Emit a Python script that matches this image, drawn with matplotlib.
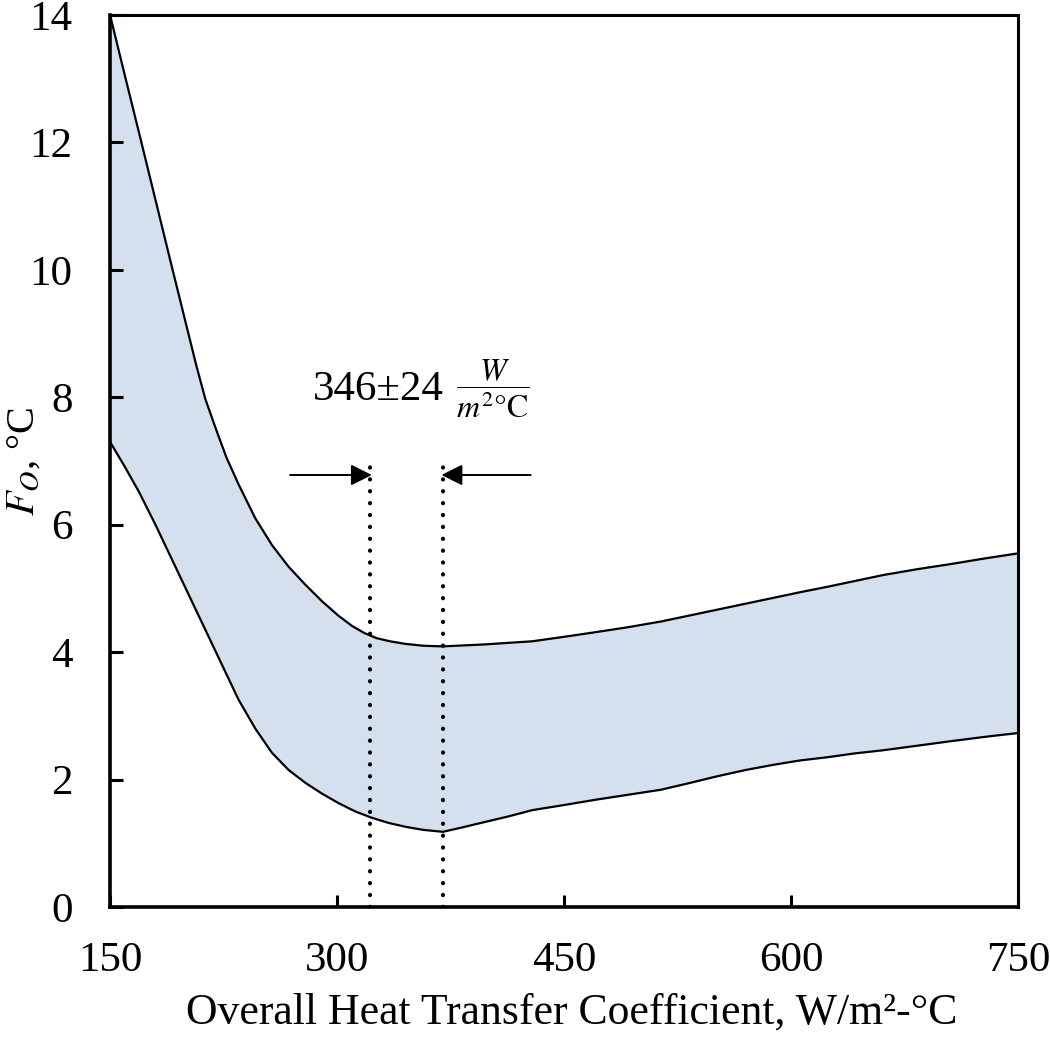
import numpy as np
import matplotlib
matplotlib.use("Agg")
import matplotlib.pyplot as plt

# ----------------------------
# Data
# ----------------------------
upper_x = [150, 160, 170, 180, 190, 200, 207, 213, 220, 227, 235, 246, 257, 268,
           279, 290, 301, 310, 318, 326, 335, 345, 357, 370, 397, 429, 450, 470,
           492, 514, 532, 550, 570, 588, 606, 625, 643, 661, 683, 705, 728, 750]
upper_y = [14.0, 13.03, 12.07, 11.1, 10.13, 9.17, 8.5, 7.97, 7.5, 7.05, 6.63,
           6.1, 5.68, 5.34, 5.06, 4.8, 4.57, 4.41, 4.3, 4.22, 4.17, 4.13, 4.10,
           4.09, 4.12, 4.17, 4.24, 4.31, 4.39, 4.48, 4.57, 4.66, 4.76, 4.85, 4.94,
           5.03, 5.12, 5.21, 5.30, 5.38, 5.47, 5.55]

lower_x = [150, 160, 169, 180, 191, 202, 213, 224, 235, 246, 257, 268, 279, 290,
           301, 312, 323, 334, 345, 357, 370, 383, 397, 413, 429, 450, 470, 492,
           514, 532, 551, 570, 588, 606, 624, 642, 661, 683, 705, 728, 750]
lower_y = [7.3, 6.9, 6.52, 6.0, 5.45, 4.9, 4.35, 3.8, 3.25, 2.8, 2.42, 2.15,
           1.95, 1.78, 1.63, 1.5, 1.40, 1.32, 1.26, 1.21, 1.18, 1.25, 1.33, 1.42,
           1.52, 1.6, 1.68, 1.76, 1.84, 1.94, 2.05, 2.15, 2.23, 2.30, 2.35, 2.41,
           2.46, 2.53, 2.60, 2.67, 2.73]

u_mean = 346
u_err = 24
marker_top = 6.94
arrow_y = 6.78
arrow_left_start = 269
arrow_right_start = 428

x_ticks = [150, 300, 450, 600, 750]
y_ticks = [0, 2, 4, 6, 8, 10, 12, 14]

# ----------------------------
# Style
# ----------------------------
plt.rcParams["font.family"] = ["Liberation Serif", "DejaVu Serif"]
plt.rcParams["mathtext.fontset"] = "stix"

fig = plt.figure(figsize=(10.5, 10.46), dpi=100)
ax = fig.add_axes([0.1048, 0.1329, 0.8647, 0.8528])

band_color = "#D5E0EF"

ax.fill(upper_x + lower_x[::-1], upper_y + lower_y[::-1],
        color=band_color, lw=0, zorder=1)
ax.plot(upper_x, upper_y, color="black", lw=1.6, zorder=3)
ax.plot(lower_x, lower_y, color="black", lw=1.6, zorder=3)

# dotted bounds of the optimum range
lo = u_mean - u_err
hi = u_mean + u_err
for xv in (lo, hi):
    ax.plot([xv, xv], [0, marker_top], color="black", lw=3.0,
            linestyle=(0, (0.05, 2.8)), dash_capstyle="round", zorder=4)

arrow_props = dict(arrowstyle="-|>", color="black", lw=1.4,
                   mutation_scale=32, shrinkA=0, shrinkB=0)
ax.annotate("", xy=(lo + 1, arrow_y), xytext=(arrow_left_start, arrow_y),
            arrowprops=arrow_props, zorder=5)
ax.annotate("", xy=(hi - 1, arrow_y), xytext=(arrow_right_start, arrow_y),
            arrowprops=arrow_props, zorder=5)

ax.text(284, 8.12, f"{u_mean}\u00b1{u_err}", fontsize=31,
        ha="left", va="center")
ax.text(403, 8.13, r"$\dfrac{W}{m^{2}\mathrm{°C}}$", fontsize=23,
        ha="center", va="center")

# ----------------------------
# Axes
# ----------------------------
ax.set_xlim(150, 750)
ax.set_ylim(0, 14)
ax.set_xticks(x_ticks)
ax.set_yticks(y_ticks)
ax.tick_params(axis="both", direction="in", length=9, width=2.2,
               labelsize=31, top=False, right=False)
ax.tick_params(axis="x", pad=25)
ax.tick_params(axis="y", pad=27)

for side in ["left", "bottom"]:
    ax.spines[side].set_linewidth(2.6)
for side in ["top", "right"]:
    ax.spines[side].set_linewidth(2.2)

ax.set_xlabel("Overall Heat Transfer Coefficient, W/m\u00b2-\u00b0C", fontsize=31.5)
ax.xaxis.set_label_coords(0.508, -0.096)
ax.xaxis.label.set_va("top")
ax.set_ylabel(r"$F_O$, °C", fontsize=29)
ax.yaxis.set_label_coords(-0.074, 0.5)

fig.savefig("out.png", dpi=100)
